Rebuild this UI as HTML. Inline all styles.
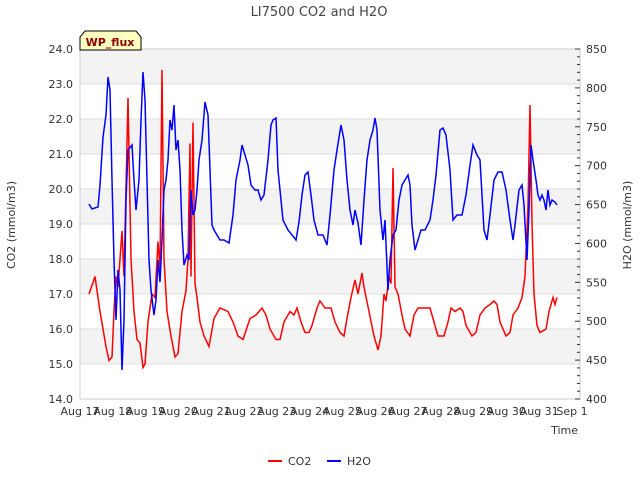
<!DOCTYPE html>
<html><head><meta charset="utf-8"><style>
body{margin:0;background:#fff;font-family:"Liberation Sans","DejaVu Sans",sans-serif;}
svg text{font-family:"DejaVu Sans","Liberation Sans",sans-serif;}
</style></head><body>
<svg id="chart" width="640" height="480" viewBox="0 0 640 480">
<text x="319" y="16" font-size="13" fill="#444" text-anchor="middle">LI7500 CO2 and H2O</text>
<g id="bands"></g><g id="grid"></g>
<rect x="80" y="49" width="500" height="350" fill="none" stroke="#ccc"/>
<g id="axes"></g>
<g id="series"></g>
<g>
<path d="M80,50 L80,37 L85,31 L136,31 L141,37 L141,50 Z" fill="#ffffc0" stroke="#000"/>
<text x="110" y="46" font-size="11" font-weight="bold" fill="#8b0000" text-anchor="middle">WP_flux</text></g>
<text x="15" y="225" font-size="11" fill="#333" text-anchor="middle" transform="rotate(-90 15 225)">CO2 (mmol/m3)</text>
<text x="631" y="225" font-size="11" fill="#333" text-anchor="middle" transform="rotate(-90 631 225)">H2O (mmol/m3)</text>
<text x="578" y="434" font-size="11" fill="#333" text-anchor="end">Time</text>
<g>
<g><line x1="268" y1="461" x2="282" y2="461" stroke="#f00" stroke-width="2"/><text x="288" y="465" font-size="11" fill="#333">CO2</text></g>
<g><line x1="327" y1="461" x2="341" y2="461" stroke="#00f" stroke-width="2"/><text x="347" y="465" font-size="11" fill="#333">H2O</text></g>
</g>
</svg>
<script>
const xTickLabels=["Aug 17","Aug 18","Aug 19","Aug 20","Aug 21","Aug 22","Aug 23","Aug 24","Aug 25","Aug 26","Aug 27","Aug 28","Aug 29","Aug 30","Aug 31","Sep 1"];
const leftTicks=[14,15,16,17,18,19,20,21,22,23,24];
const rightTicks=[400,450,500,550,600,650,700,750,800,850];
const co2X=[89,95,100,103,106,109,112,114,116,118,122,124,128,131,134,137,140,143,145,148,152,155,158,160,162,164,167,171,175,178,182,186,188,190,191,193,195,197,200,204,209,214,220,228,233,238,243,250,256,262,266,270,276,280,284,290,294,297,301,305,309,312,317,320,325,331,335,340,344,347,351,355,358,362,364,369,374,378,381,384,386,389,391,393,395,398,402,405,410,414,418,426,430,434,438,444,448,451,455,460,463,466,472,476,480,485,490,494,497,500,506,510,513,518,522,525,528,530,532,534,537,540,546,549,551,553,555,557];
const co2Y=[17.0,17.5,16.5,16.0,15.5,15.1,15.2,16.5,17.5,17.2,18.8,17.5,22.6,18,16.5,15.7,15.6,14.9,15.0,16.2,17.0,16.9,18.5,17.7,23.4,18.0,16.5,15.8,15.2,15.3,16.5,17.1,18.0,21.3,17.5,21.9,17.3,16.9,16.2,15.8,15.5,16.3,16.6,16.5,16.2,15.8,15.7,16.3,16.4,16.6,16.4,16.0,15.7,15.7,16.2,16.5,16.4,16.6,16.2,15.9,15.9,16.1,16.6,16.8,16.6,16.6,16.2,15.9,15.8,16.3,16.9,17.4,17.0,17.6,17.2,16.5,15.8,15.4,15.8,17.0,16.8,17.5,17.3,20.6,17.2,17.0,16.4,16.0,15.8,16.4,16.6,16.6,16.6,16.2,15.8,15.8,16.2,16.6,16.5,16.6,16.5,16.1,15.8,15.9,16.4,16.6,16.7,16.8,16.7,16.2,15.8,15.9,16.4,16.6,16.9,17.5,19.5,22.4,19,17,16.1,15.9,16.0,16.5,16.7,16.9,16.7,16.9];
const h2oX=[89,92,98,100,103,106,108,110,112,114,116,118,120,122,124,126,128,132,134,136,139,141,143,145,147,149,151,154,156,158,160,162,164,166,168,170,172,174,176,178,180,182,184,187,189,191,193,195,197,199,202,205,208,210,212,214,217,220,224,229,233,236,240,242,245,248,251,255,258,261,264,268,271,273,276,278,281,283,288,292,296,299,302,305,308,311,314,318,323,327,330,334,337,341,344,347,350,353,355,358,361,364,367,370,373,375,377,380,383,385,388,390,393,396,399,402,405,408,410,412,415,418,421,425,430,433,436,440,443,446,450,453,457,462,466,470,473,477,480,484,487,490,494,498,502,506,510,513,515,519,522,524,527,529,531,533,536,538,540,542,544,546,548,550,552,555,557];
const h2oYpx=[204,209,207,185,137,115,77,90,180,260,320,270,290,370,320,200,150,145,180,210,180,120,72,100,180,260,290,315,300,260,282,240,190,180,160,120,130,105,150,140,170,230,265,255,260,190,215,210,190,160,140,102,115,170,225,230,235,240,240,243,215,180,160,145,155,165,185,190,190,200,195,160,125,120,118,170,200,220,230,235,240,222,195,175,172,195,220,235,235,245,215,170,150,125,140,180,210,225,210,223,245,200,160,140,130,118,130,210,240,220,290,260,235,230,200,185,180,175,185,225,250,240,230,230,220,200,175,130,128,135,170,220,215,215,195,165,145,155,160,230,240,215,180,172,172,190,220,240,225,190,185,205,260,210,145,160,180,195,200,195,200,210,190,205,200,202,205];
const h2oY=h2oYpx.map(p=>+(400+(399-p)/0.7778).toFixed(1));
const NS="http://www.w3.org/2000/svg";
const X0=80,X1=580,Y0=399,Y1=49,DAY=32.8;
const dayOf=px=>(px-X0)/DAY;
const co2Days=co2X.map(dayOf), h2oDays=h2oX.map(dayOf);
const xs=d=>X0+d*DAY;
const yL=v=>Y0-(v-14)/(24-14)*(Y0-Y1);
const yR=v=>Y0-(v-400)/(850-400)*(Y0-Y1);
function mk(tag,attrs,parent){const e=document.createElementNS(NS,tag);for(const k in attrs)e.setAttribute(k,attrs[k]);parent.appendChild(e);return e;}
const bands=document.getElementById('bands'),grid=document.getElementById('grid'),axes=document.getElementById('axes'),ser=document.getElementById('series');
[15,17,19,21,23].forEach(v=>{const r=mk('rect',{x:X0,y:yL(v+1),width:X1-X0,height:yL(v)-yL(v+1),fill:'#f3f3f3'},bands);

});
leftTicks.forEach(v=>{const l=mk('line',{x1:X0,x2:X1,y1:yL(v),y2:yL(v),stroke:'#ddd'},grid);


const t=mk('text',{x:X0-7,y:yL(v)+4,'font-size':11,fill:'#333','text-anchor':'end'},axes);t.textContent=v.toFixed(1);

});
for(let v=400;v<=850;v+=10){const big=v%50===0;mk('line',{x1:X1,x2:X1-(big?5:3),y1:yR(v),y2:yR(v),stroke:'#333'},axes);}
rightTicks.forEach(v=>{const t=mk('text',{x:X1+6,y:yR(v)+4,'font-size':11,fill:'#333'},axes);t.textContent=v;

});
xTickLabels.forEach((s,i)=>{const t=mk('text',{x:xs(i),y:415,'font-size':11,fill:'#333','text-anchor':'middle'},axes);t.textContent=s;

});
const pC=mk('polyline',{points:co2Days.map((d,i)=>xs(d)+','+yL(co2Y[i])).join(' '),fill:'none',stroke:'#f00','stroke-width':1.5},ser);


const pH=mk('polyline',{points:h2oDays.map((d,i)=>xs(d)+','+yR(h2oY[i])).join(' '),fill:'none',stroke:'#00f','stroke-width':1.5},ser);


</script>
</body></html>
